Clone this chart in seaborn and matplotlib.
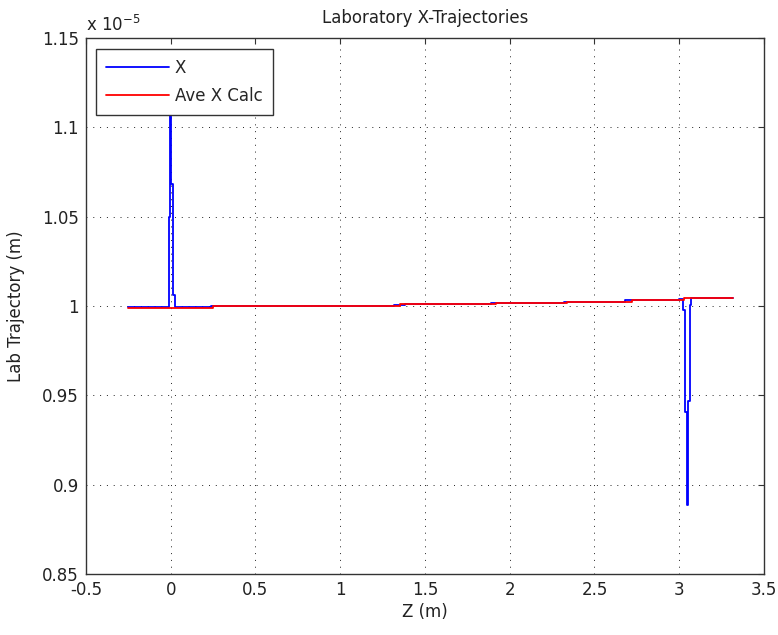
import numpy as np
import matplotlib
matplotlib.use("Agg")
import matplotlib.pyplot as plt
import seaborn as sns
from matplotlib.ticker import FuncFormatter

# Lab X trajectory (units of 1e-5 m), step-wise samples along Z (m)
z_x = [-0.25, -0.012, -0.003, 0.004, 0.012, 0.028, 0.24,
       1.32, 1.38, 1.89, 1.93, 2.32, 2.36, 2.68, 2.73,
       3.00, 3.024, 3.035, 3.045, 3.052, 3.064, 3.07, 3.30, 3.32]
x_lab = [0.9996, 1.050, 1.120, 1.068, 1.006, 0.9996, 1.0000,
         1.0006, 1.0009, 1.0017, 1.0015, 1.0024, 1.0022, 1.0035, 1.0032,
         1.0038, 0.9978, 0.9408, 0.8886, 0.9470, 1.0006, 1.0043, 1.0047, 1.0047]

# Average X calc, step-wise
z_ave = [-0.25, 0.25, 1.35, 1.92, 2.34, 2.72, 3.03, 3.32]
x_ave = [0.9991, 1.0000, 1.0009, 1.0015, 1.0022, 1.0032, 1.0043, 1.0043]

scale = 1e-5

sns.set_style("white")
plt.rcParams["font.family"] = ["DejaVu Sans"]
plt.rcParams["font.size"] = 12

fig = plt.figure(figsize=(7.78, 6.35), dpi=100)
ax = fig.add_axes([0.1105, 0.0961, 0.8715, 0.8441])

sns.lineplot(x=z_x, y=np.array(x_lab) * scale, ax=ax, color="#0000ff",
             linewidth=1.3, drawstyle="steps-post", label="X",
             estimator=None, sort=False)
sns.lineplot(x=z_ave, y=np.array(x_ave) * scale, ax=ax, color="#ff0000",
             linewidth=1.3, drawstyle="steps-post", label="Ave X Calc",
             estimator=None, sort=False)

ax.set_xlim(-0.5, 3.5)
ax.set_ylim(0.85e-5, 1.15e-5)
ax.set_xticks(np.arange(-0.5, 3.51, 0.5))
ax.set_yticks(np.arange(0.85, 1.151, 0.05) * scale)
ax.xaxis.set_major_formatter(FuncFormatter(lambda v, p: "%g" % round(v, 4)))
ax.yaxis.set_major_formatter(FuncFormatter(lambda v, p: "%g" % round(v / scale, 4)))

ax.grid(True, color="#222222", linestyle=(0, (1, 6)), linewidth=0.7)
for s in ax.spines.values():
    s.set_color("#333333")
    s.set_linewidth(1.0)
ax.tick_params(direction="in", length=4, color="#333333", top=True, right=True,
               labelsize=12, pad=5, labelcolor="#222222")

ax.text(0.0, 1.006, r"x 10$^{-5}$", transform=ax.transAxes, fontsize=12,
        ha="left", va="bottom", color="#222222")
ax.set_title("Laboratory X-Trajectories", fontsize=12, pad=11, color="#222222")
ax.set_xlabel("Z (m)", fontsize=12, labelpad=3, color="#222222")
ax.set_ylabel("Lab Trajectory (m)", fontsize=12, labelpad=12, color="#222222")

leg = ax.legend(loc="upper left", bbox_to_anchor=(0.0145, 0.979), fancybox=False,
                framealpha=1, edgecolor="#333333", fontsize=12, handlelength=3.8,
                handletextpad=0.35, borderpad=0.6, labelspacing=0.6,
                borderaxespad=0)
leg.get_frame().set_linewidth(1.0)
leg.set_zorder(10)

fig.savefig("out.png", dpi=100)
